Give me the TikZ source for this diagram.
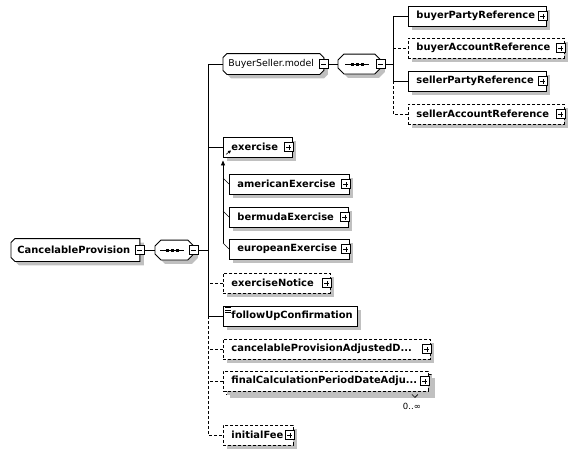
\documentclass[tikz,border=0pt]{standalone}
\usepackage{fontspec}
\setmainfont{DejaVu Sans}
\usetikzlibrary{arrows.meta, positioning, calc, backgrounds}
\definecolor{shadowgray}{RGB}{192,192,192}
\hyphenpenalty=10000

% box with cut corners behind a named node: name, left cut, right cut
\newcommand{\chambox}[3]{%
  \begin{scope}[on background layer={line width=0.9pt}]
    \fill[shadowgray, transform canvas={shift={(4pt,-4pt)}}]
      ([xshift=#2]#1.north west) -- ([xshift=-#3]#1.north east) -- ([yshift=-#3]#1.north east)
      -- ([yshift=#3]#1.south east) -- ([xshift=-#3]#1.south east) -- ([xshift=#2]#1.south west)
      -- ([yshift=#2]#1.south west) -- ([yshift=-#2]#1.north west) -- cycle;
    \filldraw[fill=white, draw=black]
      ([xshift=#2]#1.north west) -- ([xshift=-#3]#1.north east) -- ([yshift=-#3]#1.north east)
      -- ([yshift=#3]#1.south east) -- ([xshift=-#3]#1.south east) -- ([xshift=#2]#1.south west)
      -- ([yshift=#2]#1.south west) -- ([yshift=-#2]#1.north west) -- cycle;
  \end{scope}}

\begin{document}
\begin{tikzpicture}[x=1pt, y=-1pt, line width=0.9pt,
  font=\fontsize{9.4}{11}\selectfont,
  opt/.style={dash pattern=on 3pt off 2pt},
  shadowed/.style={preaction={fill=shadowgray, transform canvas={shift={(4pt,-4pt)}}}},
  box/.style={anchor=west, minimum height=20pt, inner xsep=8pt, inner ysep=0pt, align=left,
    font=\fontsize{9.9}{11}\selectfont\bfseries},
  elem/.style={box, shadowed, draw, fill=white},
  optelem/.style={elem, opt},
  seqbox/.style={anchor=west, minimum width=#1, minimum height=19pt, inner sep=0pt},
  minusbox/.style={draw, fill=white, minimum size=9pt, inner sep=0pt, line width=0.8pt,
    path picture={\draw[line width=0.8pt] ([xshift=2pt]path picture bounding box.west)
      -- ([xshift=-2pt]path picture bounding box.east);}},
  plusbox/.style={draw, fill=white, minimum size=9pt, inner sep=0pt, line width=0.8pt,
    path picture={\draw[line width=0.8pt] ([xshift=2pt]path picture bounding box.west)
      -- ([xshift=-2pt]path picture bounding box.east)
      ([yshift=2pt]path picture bounding box.south) -- ([yshift=-2pt]path picture bounding box.north);}}]
  \useasboundingbox (0,0) rectangle (577,455);

  % root and first sequence
  \node[box, inner xsep=6pt, text width=116pt, minimum height=22pt] (root) at (11,250) {CancelableProvision};
  \chambox{root}{4pt}{0pt}
  \node[minusbox] (rootm) at (root.east) {};
  \node[seqbox=38pt] (seqA) at (155,250) {};
  \chambox{seqA}{6pt}{6pt}
  \node[minusbox] (seqAm) at (seqA.east) {};
  \coordinate (seqAc) at ([xshift=-2pt]seqA.center);
  \draw ([xshift=-12pt]seqAc) -- ([xshift=12pt]seqAc);
  \foreach \d in {-5,0,5}
    \fill ([xshift=\d pt]seqAc) ++(-1.5pt,-1.5pt) rectangle ++(3pt,3pt);
  \draw (rootm.east) -- (seqA.west);

  % group with its sequence
  \node[box, font=\fontsize{9.4}{11}\selectfont, inner xsep=5pt, text width=90pt] (grp) at (223,64) {BuyerSeller.model};
  \chambox{grp}{4pt}{4pt}
  \node[minusbox] (grpm) at (grp.east) {};
  \node[seqbox=42pt] (seqB) at (338,64) {};
  \chambox{seqB}{6pt}{6pt}
  \node[minusbox] (seqBm) at (seqB.east) {};
  \coordinate (seqBc) at ([xshift=-2pt]seqB.center);
  \draw ([xshift=-12pt]seqBc) -- ([xshift=12pt]seqBc);
  \foreach \d in {-5,0,5}
    \fill ([xshift=\d pt]seqBc) ++(-1.5pt,-1.5pt) rectangle ++(3pt,3pt);
  \draw (grpm.east) -- (seqB.west);

  \foreach \n/\t/\y/\w/\s in {bpr/buyerPartyReference/16/122pt/elem,
      bar/buyerAccountReference/48/140pt/optelem,
      spr/sellerPartyReference/81/122pt/elem,
      sar/sellerAccountReference/114/140pt/optelem}{
    \node[\s, text width=\w] (\n) at (408,\y) {\t};
    \node[plusbox] (p\n) at ([xshift=-4pt]\n.east) {};
  }
  \coordinate (rbus) at (393,64);
  \draw (seqBm.east) -- (rbus);
  \draw (bpr.west) -| (rbus |- spr.west) -- (spr.west);
  \draw[opt] (rbus |- spr.west) |- (sar.west);
  \draw[opt] (rbus |- bar.west) -- (bar.west);

  % exercise and its substitution group
  \node[elem, text width=53pt] (ex) at (223,147) {exercise};
  \node[plusbox] (pex) at ([xshift=-4pt]ex.east) {};
  \draw[line width=0.6pt, -{Triangle[length=3pt,width=3pt]}] ([shift={(3pt,3pt)}]ex.south west) -- ++(5,-4);
  \foreach \n/\t/\y/\w in {am/americanExercise/184/104pt,
      bm/bermudaExercise/217/103pt, eu/europeanExercise/249/104pt}{
    \node[elem, text width=\w] (\n) at (229,\y) {\t};
    \node[plusbox] (p\n) at ([xshift=-4pt]\n.east) {};
    \draw[line width=0.6pt] (\n.west) -- ++(-6,-6);
  }
  \coordinate (sub) at (223,0);
  \draw[-{Triangle[length=5pt,width=4pt]}] ($(eu.west -| sub)+(0,-6)$) -- ($(ex.south -| sub)+(0,3)$);

  % remaining children
  \node[optelem, text width=91pt] (notice) at (223,283) {exerciseNotice};
  \node[plusbox] (pnotice) at ([xshift=-4pt]notice.east) {};
  \node[elem, text width=118pt] (fup) at (223,316) {followUpConfirmation};
  \foreach \d in {2,4.5,7}
    \draw[line width=0.6pt] ([shift={(2pt,-\d pt)}]fup.north west) -- ++(6,0);
  \node[optelem, text width=191pt] (cpad) at (223,349) {cancelableProvisionAdjustedD...};
  \node[plusbox] (pcpad) at ([xshift=-4pt]cpad.east) {};
  \node[optelem, minimum width=205pt] (fcpback) at (226,384) {};
  \node[optelem, text width=189pt] (fcp) at (223,381) {finalCalculationPeriodDateAdju...};
  \node[plusbox] (pfcp) at ([xshift=-4pt]fcp.east) {};
  \draw[line width=0.6pt] ([xshift=-20pt]fcpback.south east) -- ++(3,3) -- ++(3,-3);
  \node[font=\fontsize{8.5}{10}\selectfont] (occ) at ($(fcpback.south east)+(-20,12)$) {0..∞};
  \node[optelem, text width=54pt] (fee) at (223,435) {initialFee};
  \node[plusbox] (pfee) at ([xshift=-4pt]fee.east) {};

  % main bus
  \coordinate (bus) at (208,250);
  \draw (seqAm.east) -- (bus);
  \draw (grp.west) -| (bus |- fup.west) -- (fup.west);
  \draw (ex.west) -- (ex.west -| bus);
  \draw[opt] (bus |- fup.west) |- (fee.west);
  \draw[opt] (notice.west) -- (notice.west -| bus);
  \draw[opt] (cpad.west) -- (cpad.west -| bus);
  \draw[opt] (fcp.west) -- (fcp.west -| bus);
\end{tikzpicture}
\end{document}
